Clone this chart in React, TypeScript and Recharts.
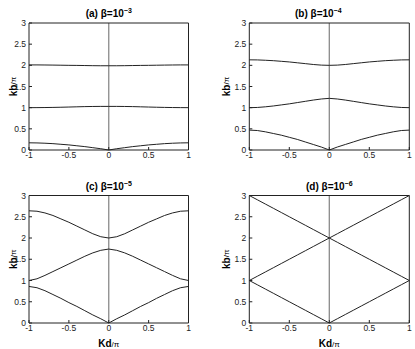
import React from "react"
import { LineChart, Line, XAxis, YAxis, ReferenceLine } from "recharts"

// Kd/pi sample positions
const kd = [-1, -0.9, -0.8, -0.7, -0.6, -0.5, -0.4, -0.3, -0.2, -0.1, 0, 0.1, 0.2, 0.3, 0.4, 0.5, 0.6, 0.7, 0.8, 0.9, 1]

// (a) beta = 1e-3
const a1 = [0.17, 0.167, 0.16, 0.15, 0.135, 0.12, 0.1, 0.08, 0.055, 0.03, 0, 0.03, 0.055, 0.08, 0.1, 0.12, 0.135, 0.15, 0.16, 0.167, 0.17]
const a2 = [1.0, 1.001, 1.003, 1.006, 1.01, 1.015, 1.02, 1.025, 1.028, 1.03, 1.03, 1.03, 1.028, 1.025, 1.02, 1.015, 1.01, 1.006, 1.003, 1.001, 1.0]
const a3 = [2.01, 2.01, 2.008, 2.006, 2.003, 2.0, 1.998, 1.995, 1.992, 1.99, 1.99, 1.99, 1.992, 1.995, 1.998, 2.0, 2.003, 2.006, 2.008, 2.01, 2.01]

// (b) beta = 1e-4
const b1 = [0.47, 0.46, 0.43, 0.39, 0.35, 0.3, 0.25, 0.19, 0.13, 0.07, 0, 0.07, 0.13, 0.19, 0.25, 0.3, 0.35, 0.39, 0.43, 0.46, 0.47]
const b2 = [1.0, 1.005, 1.02, 1.04, 1.065, 1.09, 1.12, 1.15, 1.18, 1.205, 1.22, 1.205, 1.18, 1.15, 1.12, 1.09, 1.065, 1.04, 1.02, 1.005, 1.0]
const b3 = [2.13, 2.128, 2.12, 2.11, 2.095, 2.08, 2.06, 2.04, 2.02, 2.005, 2.0, 2.005, 2.02, 2.04, 2.06, 2.08, 2.095, 2.11, 2.12, 2.128, 2.13]

// (c) beta = 1e-5
const c1 = [0.86, 0.83, 0.76, 0.67, 0.58, 0.48, 0.39, 0.29, 0.19, 0.1, 0, 0.1, 0.19, 0.29, 0.39, 0.48, 0.58, 0.67, 0.76, 0.83, 0.86]
const c2 = [1.0, 1.04, 1.12, 1.21, 1.3, 1.39, 1.48, 1.57, 1.65, 1.71, 1.74, 1.71, 1.65, 1.57, 1.48, 1.39, 1.3, 1.21, 1.12, 1.04, 1.0]
const c3 = [2.64, 2.63, 2.59, 2.53, 2.45, 2.37, 2.28, 2.19, 2.1, 2.03, 2.0, 2.03, 2.1, 2.19, 2.28, 2.37, 2.45, 2.53, 2.59, 2.63, 2.64]

// (d) beta = 1e-6
const d1 = [1, 0.9, 0.8, 0.7, 0.6, 0.5, 0.4, 0.3, 0.2, 0.1, 0, 0.1, 0.2, 0.3, 0.4, 0.5, 0.6, 0.7, 0.8, 0.9, 1]
const d2 = [1, 1.1, 1.2, 1.3, 1.4, 1.5, 1.6, 1.7, 1.8, 1.9, 2, 1.9, 1.8, 1.7, 1.6, 1.5, 1.4, 1.3, 1.2, 1.1, 1]
const d3 = [3, 2.9, 2.8, 2.7, 2.6, 2.5, 2.4, 2.3, 2.2, 2.1, 2, 2.1, 2.2, 2.3, 2.4, 2.5, 2.6, 2.7, 2.8, 2.9, 3]

const xTicks = [-1, -0.5, 0, 0.5, 1]
const yTicks = [0, 0.5, 1, 1.5, 2, 2.5, 3]

const FONT = '"Liberation Sans", Arial, Helvetica, sans-serif'
const INK = "#222"

function Panel({ left, top, width, height, margin, bands, letter, exp, titleDx, yLabelOff, xLabel }: any) {
  const data = kd.map((x, i) => ({ x, b1: bands[0][i], b2: bands[1][i], b3: bands[2][i] }))

  const renderTitle = (p: any) => {
    const vb = p.viewBox || { x: 0, y: 0, width: 0, height: 0 }
    return (
      <text x={vb.x + vb.width / 2 + titleDx} y={vb.y + vb.height - 6} textAnchor="middle" fontFamily={FONT} fontSize={10} fontWeight="bold" fill="#000">
        ({letter}) β=10<tspan dy={-4} fontSize={7}>−{exp}</tspan>
      </text>
    )
  }

  const renderYLabel = (p: any) => {
    const vb = p.viewBox || { x: 0, y: 0, width: 0, height: 0 }
    const cx = vb.x + vb.width - yLabelOff
    const cy = vb.y + vb.height / 2
    return (
      <text transform={`translate(${cx},${cy}) rotate(-90)`} textAnchor="middle" dominantBaseline="central" fontFamily={FONT} fill="#000">
        <tspan fontSize={10} fontWeight="bold">kb</tspan>
        <tspan fontSize={8}>/π</tspan>
      </text>
    )
  }

  const renderXLabel = (p: any) => {
    const vb = p.viewBox || { x: 0, y: 0, width: 0 }
    return (
      <text x={vb.x + vb.width / 2} y={vb.y + 24} textAnchor="middle" fontFamily={FONT} fill="#000">
        <tspan fontSize={10} fontWeight="bold">Kd</tspan>
        <tspan fontSize={8}>/π</tspan>
      </text>
    )
  }

  return (
    <div style={{ position: "absolute", left, top, width, height }}>
      <LineChart width={width} height={height} data={data} margin={margin}>
        <XAxis
          dataKey="x"
          type="number"
          domain={[-1, 1]}
          ticks={xTicks}
          interval={0}
          height={1}
          stroke={INK}
          tickSize={-3}
          tickMargin={5}
          tick={{ fill: INK, fontSize: 8.5, fontFamily: FONT }}
          label={xLabel ? { content: renderXLabel } : undefined}
        />
        <XAxis
          xAxisId="top"
          orientation="top"
          type="number"
          domain={[-1, 1]}
          ticks={xTicks}
          interval={0}
          height={1}
          stroke={INK}
          tickSize={-3}
          tick={false}
          label={{ content: renderTitle }}
        />
        <YAxis
          type="number"
          domain={[0, 3]}
          ticks={yTicks}
          interval={0}
          width={1}
          stroke={INK}
          tickSize={-3}
          tickMargin={6}
          tick={{ fill: INK, fontSize: 8.5, fontFamily: FONT }}
          label={{ content: renderYLabel }}
        />
        <YAxis
          yAxisId="right"
          orientation="right"
          type="number"
          domain={[0, 3]}
          ticks={yTicks}
          interval={0}
          width={1}
          stroke={INK}
          tickSize={-3}
          tick={false}
        />
        <ReferenceLine x={0} stroke="#8a8a8a" strokeWidth={1.3} />
        <Line type="linear" dataKey="b1" stroke={INK} strokeWidth={1} dot={false} isAnimationActive={false} />
        <Line type="linear" dataKey="b2" stroke={INK} strokeWidth={1} dot={false} isAnimationActive={false} />
        <Line type="linear" dataKey="b3" stroke={INK} strokeWidth={1} dot={false} isAnimationActive={false} />
      </LineChart>
    </div>
  )
}

export default function App() {
  return (
    <div style={{ position: "absolute", left: 0, top: 0, width: 415, height: 349, background: "#fff" }}>
      <Panel left={0} top={0} width={207} height={174} margin={{ top: 22, right: 17.5, bottom: 23, left: 28 }}
        bands={[a1, a2, a3]} letter="a" exp="3" titleDx={0} yLabelOff={16} xLabel={false} />
      <Panel left={207} top={0} width={208} height={174} margin={{ top: 22, right: 4.7, bottom: 23, left: 41.3 }}
        bands={[b1, b2, b3]} letter="b" exp="4" titleDx={-11} yLabelOff={23} xLabel={false} />
      <Panel left={0} top={174} width={207} height={175} margin={{ top: 20.5, right: 17.5, bottom: 25, left: 28 }}
        bands={[c1, c2, c3]} letter="c" exp="5" titleDx={0} yLabelOff={16} xLabel={true} />
      <Panel left={207} top={174} width={208} height={175} margin={{ top: 20.5, right: 4.7, bottom: 25, left: 41.3 }}
        bands={[d1, d2, d3]} letter="d" exp="6" titleDx={0} yLabelOff={23} xLabel={true} />
    </div>
  )
}
